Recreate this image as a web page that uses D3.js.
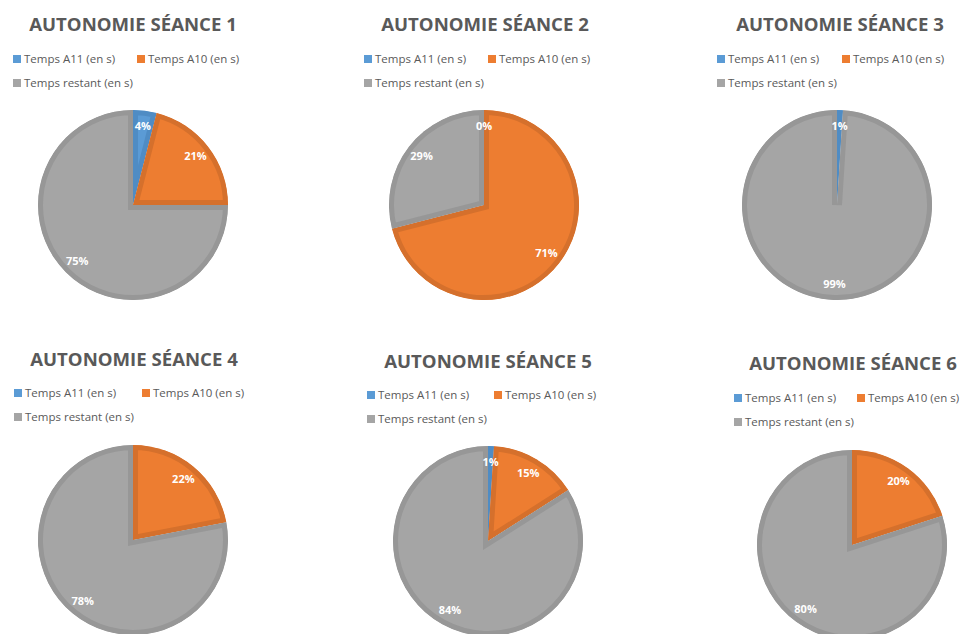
<!DOCTYPE html>
<html>
<head>
<meta charset="utf-8">
<script src="https://cdn.jsdelivr.net/npm/d3@7/dist/d3.min.js"></script>
<style>
  html, body { margin: 0; padding: 0; background: #ffffff; }
  svg { display: block; }
</style>
</head>
<body>
<svg id="chart" width="960" height="634"></svg>
<script>
// Session titles and legend entries
const sessionTitles = [
  "AUTONOMIE SÉANCE 1", "AUTONOMIE SÉANCE 2", "AUTONOMIE SÉANCE 3",
  "AUTONOMIE SÉANCE 4", "AUTONOMIE SÉANCE 5", "AUTONOMIE SÉANCE 6"
];
const seriesNames = ["Temps A11 (en s)", "Temps A10 (en s)", "Temps restant (en s)"];

// Share of the session (percent) per activity; null = no value recorded
const tempsA11     = [4, 0, 1, null, 1, null];
const tempsA10     = [21, 71, null, 22, 15, 20];
const tempsRestant = [75, 29, 99, 78, 84, 80];

// Slice fills and their darker inner borders
const fillColors   = ["#5b9bd5", "#ed7d31", "#a5a5a5"];
const borderColors = ["#4f8cc4", "#d5702c", "#979797"];

// Panel placement: pie centre, title line, legend rows and legend item x positions
const panels = [
  { cx: 133, cy: 205, titleX: 133, titleY: 31, legY: 59, legX: [13, 137] },
  { cx: 484, cy: 205, titleX: 485, titleY: 31, legY: 59, legX: [364, 488] },
  { cx: 837, cy: 205, titleX: 840, titleY: 31, legY: 59, legX: [717, 842] },
  { cx: 133, cy: 540, titleX: 134, titleY: 366, legY: 393, legX: [14, 142] },
  { cx: 488, cy: 541, titleX: 488, titleY: 368, legY: 395, legX: [367, 494] },
  { cx: 852, cy: 545, titleX: 853, titleY: 370, legY: 398, legX: [734, 857] }
];

const radius = 95;
const labelRadius = 79;
const fontFamily = "'Open Sans', 'Liberation Sans', sans-serif";

const svg = d3.select("#chart");
const defs = svg.append("defs");

const pie = d3.pie()
  .sort(null)
  .value(d => d.value == null ? 0 : d.value);

const arc = d3.arc().innerRadius(0).outerRadius(radius);
const labelArc = d3.arc().innerRadius(labelRadius).outerRadius(labelRadius);

sessionTitles.forEach((title, i) => {
  const p = panels[i];
  const g = svg.append("g").attr("class", "panel");

  // Title
  g.append("text")
    .attr("x", p.titleX)
    .attr("y", p.titleY)
    .attr("text-anchor", "middle")
    .attr("font-family", fontFamily)
    .attr("font-weight", 700)
    .attr("font-size", 18.6)
    .attr("fill", "#595959")
    .text(title);

  // Legend: two items on the first row, one on the second
  const legendPos = [
    { x: p.legX[0], y: p.legY },
    { x: p.legX[1], y: p.legY },
    { x: p.legX[0], y: p.legY + 24 }
  ];
  seriesNames.forEach((name, k) => {
    const lp = legendPos[k];
    g.append("rect")
      .attr("x", lp.x)
      .attr("y", lp.y - 4)
      .attr("width", 8)
      .attr("height", 8)
      .attr("fill", fillColors[k]);
    g.append("text")
      .attr("x", lp.x + 11)
      .attr("y", lp.y + 4)
      .attr("font-family", fontFamily)
      .attr("font-size", 11.5)
      .attr("fill", "#595959")
      .text(name);
  });

  // Pie
  const rows = [
    { key: 0, value: tempsA11[i] },
    { key: 1, value: tempsA10[i] },
    { key: 2, value: tempsRestant[i] }
  ];
  const arcs = pie(rows);
  const pg = g.append("g").attr("transform", `translate(${p.cx},${p.cy})`);

  arcs.forEach((a, k) => {
    if (a.data.value == null || a.data.value === 0) return;
    const id = `clip-${i}-${k}`;
    const path = arc(a);
    // clip region in the slice group's own (translated) coordinates
    defs.append("clipPath")
      .attr("id", id)
      .append("path")
      .attr("d", path);
    // Clip the stroke to the slice itself so the border sits on the inside
    pg.append("path")
      .attr("d", path)
      .attr("fill", fillColors[a.data.key])
      .attr("stroke", borderColors[a.data.key])
      .attr("stroke-width", 10)
      .attr("stroke-linejoin", "miter")
      .attr("clip-path", `url(#${id})`);
  });

  // Percentage labels
  arcs.forEach(a => {
    if (a.data.value == null) return;
    const [lx, ly] = labelArc.centroid(a);
    pg.append("text")
      .attr("x", lx)
      .attr("y", ly)
      .attr("dy", "0.35em")
      .attr("text-anchor", "middle")
      .attr("font-family", fontFamily)
      .attr("font-weight", 700)
      .attr("font-size", 11)
      .attr("fill", "#ffffff")
      .text(`${a.data.value}%`);
  });
});
</script>
</body>
</html>
